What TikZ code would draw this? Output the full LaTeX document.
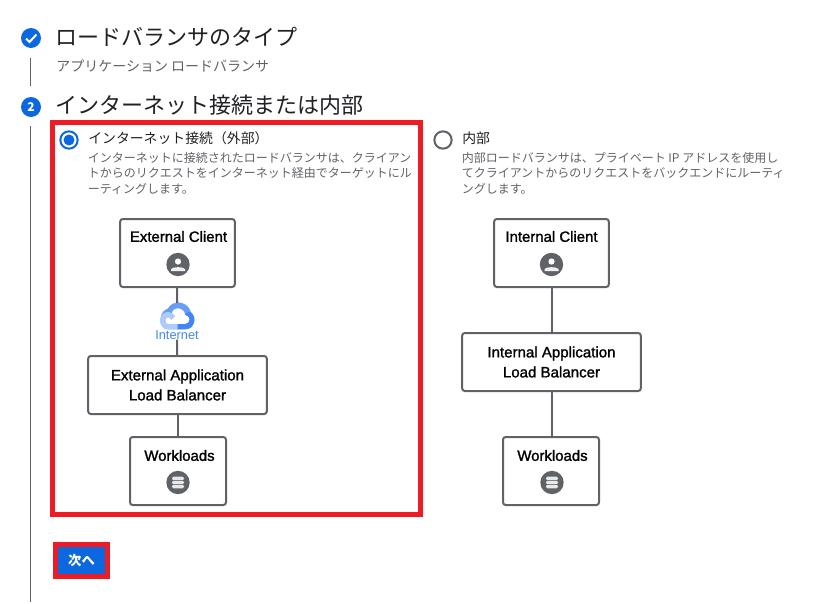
\documentclass[tikz,border=0pt]{standalone}
\usepackage{fontspec}
\usepackage{xcolor}
\setmainfont{Noto Sans CJK JP}
\newfontfamily\latinfont[FakeBold=1.4]{Liberation Sans}
\usetikzlibrary{positioning,backgrounds}
\definecolor{stepblue}{RGB}{11,104,222}
\definecolor{markred}{RGB}{237,28,36}
\definecolor{linegray}{RGB}{95,99,104}
\definecolor{bodygray}{RGB}{95,99,104}
\definecolor{titleblack}{RGB}{32,33,36}
\definecolor{netblue}{RGB}{66,133,244}
\definecolor{netmid}{RGB}{102,157,246}
\definecolor{netpale}{RGB}{174,203,250}

\begin{document}
\begin{tikzpicture}[
    x=0.75pt, y=-0.75pt,
    steptitle/.style={anchor=west, inner sep=0, font=\fontsize{16.5}{20}\selectfont, text=titleblack},
    stepsub/.style={anchor=west, inner sep=0, font=\fontsize{10.5}{12}\selectfont, text=bodygray},
    stepmark/.style={circle, fill=stepblue, minimum size=15pt, inner sep=0, text=white, font=\fontsize{9}{10}\selectfont\bfseries},
    optlabel/.style={anchor=west, inner sep=0, font=\fontsize{10.4}{12}\selectfont, text=titleblack},
    optbody/.style={anchor=north west, inner sep=0, align=left, font=\fontsize{9}{11.7}\selectfont, text=bodygray},
    archbox/.style={draw=linegray, line width=1.5pt, rounded corners=2pt, fill=white, inner sep=0,
                    align=center, font=\latinfont\fontsize{11.3}{15}\selectfont, text=black},
    archtext/.style={inner sep=0, font=\latinfont\fontsize{11.2}{12}\selectfont},
    archicon/.style={circle, fill=linegray, minimum size=17.5pt, inner sep=0},
    archlink/.style={draw=linegray, line width=1.5pt},
    redmark/.style={draw=markred, line width=3.75pt},
    person/.pic={
        \fill[white] (0,-3) circle (3.1);
        \fill[white!90!linegray] (-7,6.5) -- (-7,4.6) .. controls (-6,2) and (6,2) .. (7,4.6) -- (7,6.5) -- cycle;
    },
    stack/.pic={
        \foreach \yy in {-5.8,-1.7,2.4}
            \fill[white!85!linegray, rounded corners=1pt] (-6,\yy) rectangle (6,\yy+3.4);
    }
]
\useasboundingbox (0,0) rectangle (826,604);

% Steps on the left
\node[stepmark] (check) at (31,38) {};
\draw[white, line width=1.5pt] (26,38.5) -- (29.5,42) -- (36.5,34.5);
\node[steptitle] (typetitle) at (55,37) {ロードバランサのタイプ};
\node[stepsub] (typesub) at (56,66.5) {アプリケーション ロードバランサ};
\node[stepmark] (two) at (31,107) {2};
\node[steptitle] (nettitle) at (55,105) {インターネット接続または内部};
\draw[linegray, line width=0.7pt] ([xshift=-0.75pt]check.south |- 0,58) -- ([xshift=-0.75pt]check.south |- 0,86);
\draw[linegray, line width=0.7pt] ([xshift=-0.75pt]two.south |- 0,126) -- ([xshift=-0.75pt]two.south |- 0,602);

% External option
\node[circle, draw=stepblue, line width=1.5pt, minimum size=13pt, inner sep=0] (extradio) at (69,140) {};
\fill[stepblue] (extradio) circle (5.5);
\node[optlabel] (extlabel) at (88,138.5) {インターネット接続（外部）};
\node[optbody] (extbody) at (87.5,152) {インターネットに接続されたロードバランサは、クライアン\\トからのリクエストをインターネット経由でターゲットにル\\ーティングします。};

% Internal option
\node[circle, draw=linegray, line width=1.5pt, minimum size=13pt, inner sep=0] (intradio) at (443,140) {};
\node[optlabel] (intlabel) at (462,138.5) {内部};
\node[optbody] (intbody) at (461.5,152) {内部ロードバランサは、プライベート IP アドレスを使用し\\てクライアントからのリクエストをバックエンドにルーティ\\ングします。};

% External diagram
\node[archbox, minimum width=86pt, minimum height=51pt] (extclient) at (177.5,253) {};
\node[archtext] (extclienttext) at (178.5,236.5) {External Client};
\node[archicon] (extclienticon) at (178,264.5) {};
\pic at (extclienticon) {person};
\node[minimum width=25pt, minimum height=19pt, inner sep=0] (cloud) at (177,316) {};
\node[inner sep=0, font=\fontsize{9.6}{10}\selectfont, text=netblue] (inet) at (177,335) {\fontspec{Liberation Sans}Internet};
\node[archbox, minimum width=134pt, minimum height=43.5pt] (extlb) at (177.5,385) {External Application\\Load Balancer};
\node[archbox, minimum width=72pt, minimum height=51pt] (extwork) at (178,471) {};
\node[archtext] (extworktext) at (179.5,455.5) {Workloads};
\node[archicon] (extworkicon) at (178,482.5) {};
\pic at (extworkicon) {stack};

% Cloud icon
\filldraw[netmid, line width=0.6pt] (161,319) .. controls (161,313) and (165,310) .. (168,309) .. controls (171,303) and (178,302) .. (182,303.5) .. controls (187,305) and (190,309) .. (190.5,313) -- (185.5,313.5) .. controls (184,309) and (180,307.5) .. (177,308) .. controls (173,308.5) and (171,311) .. (171,314) -- (166,314) .. controls (165.5,315.5) and (165,317) .. (165,319) -- cycle;
\filldraw[netblue, line width=0.6pt] (190,312) .. controls (194,315) and (195,319) .. (193.5,323) .. controls (192,327) and (189,329) .. (185,329) -- (177,329) -- (177,324.5) -- (185,324.5) .. controls (188,324.5) and (190,322) .. (190,319.5) .. controls (190,317) and (188,315) .. (185.5,314.5) -- cycle;
\filldraw[netpale, line width=0.8pt] (177,329) -- (168,329) .. controls (163.5,329) and (160.5,325) .. (160.5,320.5) .. controls (160.5,316) and (164,312.5) .. (168,312.5) .. controls (171,312.5) and (173,314) .. (174.5,316) -- (171.5,319) .. controls (170.5,317.5) and (169.5,317) .. (168,317) .. controls (166.5,317) and (165,318.5) .. (165,320.5) .. controls (165,323) and (166.5,324.5) .. (168,324.5) -- (177,324.5) -- cycle;

% Internal diagram
\node[archbox, minimum width=86pt, minimum height=51pt] (intclient) at (551.5,253) {};
\node[archtext] (intclienttext) at (551.5,236.5) {Internal Client};
\node[archicon] (intclienticon) at (551.5,264.5) {};
\pic at (intclienticon) {person};
\node[archbox, minimum width=134pt, minimum height=43.5pt] (intlb) at (551.5,362) {Internal Application\\Load Balancer};
\node[archbox, minimum width=72pt, minimum height=51pt] (intwork) at (551,471) {};
\node[archtext] (intworktext) at (552.5,455.5) {Workloads};
\node[archicon] (intworkicon) at (552,482.5) {};
\pic at (intworkicon) {stack};

% Connectors
\draw[archlink] (extclient) -- (cloud);
\draw[archlink] (inet) -- (extlb);
\draw[archlink] (extlb) -- (extlb |- extwork.north);
\draw[archlink] (intclient) -- (intlb);
\draw[archlink] (intlb) -- (intlb |- intwork.north);

% Red marks and button
\node[redmark, minimum width=276pt, minimum height=294pt, inner sep=0] (extmark) at (236.5,318) {};
\node[redmark, fill=stepblue, minimum width=39pt, minimum height=24pt, inner sep=0, text=white,
      font=\fontsize{10}{12}\selectfont\bfseries] (nextbtn) at (81.5,560.5) {\raisebox{-0.8pt}{次へ}};
\end{tikzpicture}
\end{document}
